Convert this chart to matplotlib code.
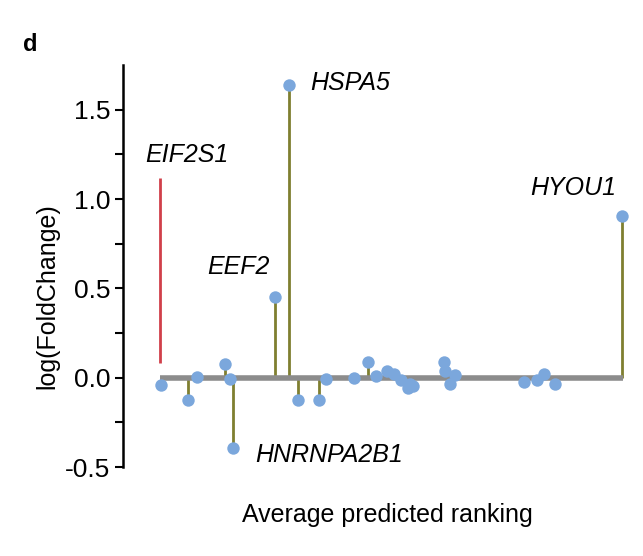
import matplotlib.pyplot as plt
import numpy as np

plt.rcParams['font.family'] = ['Liberation Sans', 'DejaVu Sans']

# ranking position and log fold change for each gene
rank = [1, 6.7, 8.7, 14.7, 15.8, 16.5, 25.5, 28.5, 30.4, 34.9, 36.4, 42.4, 45.4,
        47.2, 49.5, 51, 52.5, 54, 54.5, 55.1, 61.8, 62, 63.1, 64.1, 78.9, 81.7,
        83.3, 85.5, 100]
lfc = [-0.043, -0.122, 0.005, 0.078, -0.005, -0.395, 0.45, 1.64, -0.122, -0.122,
       -0.005, 0.0, 0.087, 0.01, 0.035, 0.022, -0.015, -0.057, -0.033, -0.046,
       0.087, 0.04, -0.033, 0.017, -0.024, -0.015, 0.022, -0.037, 0.905]

# red bar for EIF2S1
eif_x = 0.8
eif_lo, eif_hi = 0.08, 1.12

labels = ['HSPA5', 'EIF2S1', 'EEF2', 'HYOU1', 'HNRNPA2B1']
label_x = [33.0, -2.4, 10.9, 80.3, 21.2]
label_y = [1.65, 1.244, 0.617, 1.061, -0.433]

fig = plt.figure(figsize=(6.43, 5.56), dpi=100)
ax = fig.add_axes([0.191, 0.160, 0.789, 0.723])

ax.vlines(rank, 0, lfc, color='#7f7f30', lw=2, zorder=1)
ax.hlines(0, min(rank) - 0.2, max(rank) + 0.2, color='#8c8c8c', lw=4, zorder=2)
ax.vlines(eif_x, eif_lo, eif_hi, color='#d0404a', lw=2, zorder=2)
ax.scatter(rank, lfc, s=80, color='#7ba7dc', zorder=3, linewidths=0)

for t, x, y in zip(labels, label_x, label_y):
    ax.text(x, y, t, fontsize=18, style='italic', ha='left', va='center')

ax.set_xlim(-7.2, 101.7)
ax.set_ylim(-0.5, 1.75)
ax.set_yticks([-0.5, 0.0, 0.5, 1.0, 1.5])
ax.set_yticklabels(['-0.5', '0.0', '0.5', '1.0', '1.5'])
ax.set_yticks(np.arange(-0.25, 1.75, 0.5), minor=True)
ax.set_xticks([])
for s in ['top', 'right', 'bottom']:
    ax.spines[s].set_visible(False)
ax.spines['left'].set_linewidth(1.8)
ax.spines['left'].set_bounds(-0.5, 1.75)
ax.tick_params(axis='y', which='both', direction='out', length=6, width=1.5,
               labelsize=19, pad=3)

ax.set_ylabel('log(FoldChange)', fontsize=18)
ax.yaxis.set_label_coords(-0.126, 0.425)
ax.set_xlabel('Average predicted ranking', fontsize=18)
ax.xaxis.set_label_coords(0.521, -0.09)

fig.text(0.035, 0.92, 'd', fontsize=17, fontweight='bold', va='center')

fig.savefig('out.png', dpi=100)
